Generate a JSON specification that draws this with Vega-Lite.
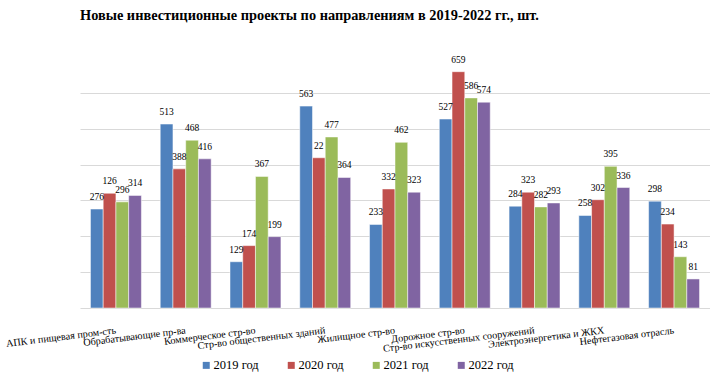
{
  "$schema": "https://vega.github.io/schema/vega-lite/v6.json",
  "width": 630,
  "height": 251,
  "autosize": {"type": "none"},
  "padding": {"left": 80, "top": 57, "right": 0, "bottom": 66},
  "background": "white",
  "title": {
    "text": "Новые инвестиционные проекты по направлениям в 2019-2022 гг., шт.",
    "anchor": "start",
    "frame": "group",
    "font": "Times New Roman",
    "fontSize": 14.35,
    "fontWeight": "bold",
    "color": "black",
    "offset": 31
  },
  "data": {
    "values": [
      {"cat": "АПК и пищевая пром-сть", "year": "2019 год", "value": 276, "label": "276"},
      {"cat": "АПК и пищевая пром-сть", "year": "2020 год", "value": 320, "label": "126"},
      {"cat": "АПК и пищевая пром-сть", "year": "2021 год", "value": 296, "label": "296"},
      {"cat": "АПК и пищевая пром-сть", "year": "2022 год", "value": 314, "label": "314"},
      {"cat": "Обрабатывающие пр-ва", "year": "2019 год", "value": 513, "label": "513"},
      {"cat": "Обрабатывающие пр-ва", "year": "2020 год", "value": 388, "label": "388"},
      {"cat": "Обрабатывающие пр-ва", "year": "2021 год", "value": 468, "label": "468"},
      {"cat": "Обрабатывающие пр-ва", "year": "2022 год", "value": 416, "label": "416"},
      {"cat": "Коммерческое стр-во", "year": "2019 год", "value": 129, "label": "129"},
      {"cat": "Коммерческое стр-во", "year": "2020 год", "value": 174, "label": "174"},
      {"cat": "Коммерческое стр-во", "year": "2021 год", "value": 367, "label": "367"},
      {"cat": "Коммерческое стр-во", "year": "2022 год", "value": 199, "label": "199"},
      {"cat": "Стр-во общественных зданий", "year": "2019 год", "value": 563, "label": "563"},
      {"cat": "Стр-во общественных зданий", "year": "2020 год", "value": 419, "label": "22"},
      {"cat": "Стр-во общественных зданий", "year": "2021 год", "value": 477, "label": "477"},
      {"cat": "Стр-во общественных зданий", "year": "2022 год", "value": 364, "label": "364"},
      {"cat": "Жилищное стр-во", "year": "2019 год", "value": 233, "label": "233"},
      {"cat": "Жилищное стр-во", "year": "2020 год", "value": 332, "label": "332"},
      {"cat": "Жилищное стр-во", "year": "2021 год", "value": 462, "label": "462"},
      {"cat": "Жилищное стр-во", "year": "2022 год", "value": 323, "label": "323"},
      {"cat": "Дорожное стр-во", "year": "2019 год", "value": 527, "label": "527"},
      {"cat": "Дорожное стр-во", "year": "2020 год", "value": 659, "label": "659"},
      {"cat": "Дорожное стр-во", "year": "2021 год", "value": 586, "label": "586"},
      {"cat": "Дорожное стр-во", "year": "2022 год", "value": 574, "label": "574"},
      {"cat": "Стр-во искусственных сооружений", "year": "2019 год", "value": 284, "label": "284"},
      {"cat": "Стр-во искусственных сооружений", "year": "2020 год", "value": 323, "label": "323"},
      {"cat": "Стр-во искусственных сооружений", "year": "2021 год", "value": 282, "label": "282"},
      {"cat": "Стр-во искусственных сооружений", "year": "2022 год", "value": 293, "label": "293"},
      {"cat": "Электроэнергетика и ЖКХ", "year": "2019 год", "value": 258, "label": "258"},
      {"cat": "Электроэнергетика и ЖКХ", "year": "2020 год", "value": 302, "label": "302"},
      {"cat": "Электроэнергетика и ЖКХ", "year": "2021 год", "value": 395, "label": "395"},
      {"cat": "Электроэнергетика и ЖКХ", "year": "2022 год", "value": 336, "label": "336"},
      {"cat": "Нефтегазовая отрасль", "year": "2019 год", "value": 298, "label": "298"},
      {"cat": "Нефтегазовая отрасль", "year": "2020 год", "value": 234, "label": "234"},
      {"cat": "Нефтегазовая отрасль", "year": "2021 год", "value": 143, "label": "143"},
      {"cat": "Нефтегазовая отрасль", "year": "2022 год", "value": 81, "label": "81"}
    ]
  },
  "encoding": {
    "x": {
      "field": "cat",
      "type": "nominal",
      "sort": null,
      "title": null,
      "scale": {"paddingInner": 0.27, "paddingOuter": 0.15},
      "axis": {
        "domain": false,
        "ticks": false,
        "grid": false,
        "labelAngle": -7,
        "labelAlign": "right",
        "labelBaseline": "middle",
        "labelPadding": 22,
        "labelFont": "Times New Roman",
        "labelFontSize": 10.2,
        "labelColor": "black",
        "labelLimit": 300,
        "labelOverlap": false
      }
    },
    "xOffset": {"field": "year", "type": "nominal", "scale": {"paddingInner": 0, "paddingOuter": 0}},
    "y": {
      "field": "value",
      "type": "quantitative",
      "title": null,
      "scale": {"domain": [0, 700], "nice": false},
      "axis": {
        "values": [0, 100, 200, 300, 400, 500, 600],
        "domain": false,
        "ticks": false,
        "labels": false,
        "grid": true,
        "gridColor": "#D9D9D9",
        "gridWidth": 1
      }
    }
  },
  "layer": [
    {
      "mark": {"type": "bar", "stroke": "white", "strokeWidth": 0.5},
      "encoding": {
        "color": {
          "field": "year",
          "type": "nominal",
          "scale": {
            "domain": ["2019 год", "2020 год", "2021 год", "2022 год"],
            "range": ["#4F81BD", "#C0504D", "#9BBB59", "#8064A2"]
          },
          "legend": {
            "title": null,
            "orient": "none",
            "legendX": 120,
            "legendY": 302,
            "direction": "horizontal",
            "symbolType": "square",
            "symbolSize": 49,
            "symbolStrokeWidth": 0,
            "labelFont": "Times New Roman",
            "labelFontSize": 12.5,
            "labelColor": "black",
            "labelOffset": 1,
            "columnPadding": 26
          }
        }
      }
    },
    {
      "mark": {
        "type": "text",
        "baseline": "bottom",
        "dy": -7,
        "font": "Times New Roman",
        "fontSize": 9.5,
        "color": "black"
      },
      "encoding": {
        "text": {"field": "label", "type": "nominal"}
      }
    }
  ],
  "config": {"view": {"stroke": null}}
}
